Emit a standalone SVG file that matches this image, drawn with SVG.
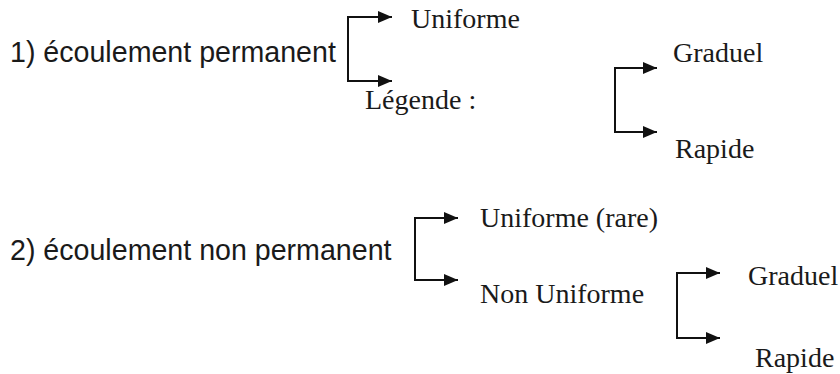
<svg xmlns="http://www.w3.org/2000/svg" width="840" height="374" viewBox="0 0 840 374">
  <style>
    .sans { font-family: "Liberation Sans", Arial, sans-serif; font-size: 28.6px; fill: #1a1a1a; }
    .serif { font-family: "Liberation Serif", "Times New Roman", serif; font-size: 28px; fill: #1a1a1a; }
    .br { fill: none; stroke: #111; stroke-width: 2; marker-start: url(#arrS); marker-end: url(#arrE); }
  </style>
  <defs>
    <marker id="arrE" viewBox="0 0 14 12" refX="14" refY="6" markerWidth="14" markerHeight="12" markerUnits="userSpaceOnUse" orient="auto">
      <path d="M0 0 L14 6 L0 12 z" fill="#111"/>
    </marker>
    <marker id="arrS" viewBox="0 0 14 12" refX="14" refY="6" markerWidth="14" markerHeight="12" markerUnits="userSpaceOnUse" orient="auto-start-reverse">
      <path d="M0 0 L14 6 L0 12 z" fill="#111"/>
    </marker>
  </defs>
  <rect width="840" height="374" fill="#fff"/>
  <g id="connectors">
    <path class="br" d="M392 17 H348 V81 H392"/>
    <path class="br" d="M657 68 H615 V132 H657"/>
    <path class="br" d="M458 218 H415 V280 H458"/>
    <path class="br" d="M720 273 H677 V338 H720"/>
  </g>
  <g id="n-permanent"><text class="sans" x="10" y="62">1) écoulement permanent</text></g>
  <g id="n-uniforme1"><text class="serif" x="411" y="28">Uniforme</text></g>
  <g id="n-legende"><text class="serif" x="365" y="109">Légende :</text></g>
  <g id="n-graduel1"><text class="serif" x="673" y="62">Graduel</text></g>
  <g id="n-rapide1"><text class="serif" x="675" y="158">Rapide</text></g>
  <g id="n-nonpermanent"><text class="sans" x="10" y="260">2) écoulement non permanent</text></g>
  <g id="n-uniforme2"><text class="serif" x="480" y="227">Uniforme (rare)</text></g>
  <g id="n-nonuniforme"><text class="serif" x="480" y="303">Non Uniforme</text></g>
  <g id="n-graduel2"><text class="serif" x="748" y="285">Graduel</text></g>
  <g id="n-rapide2"><text class="serif" x="755" y="367">Rapide</text></g>
</svg>
